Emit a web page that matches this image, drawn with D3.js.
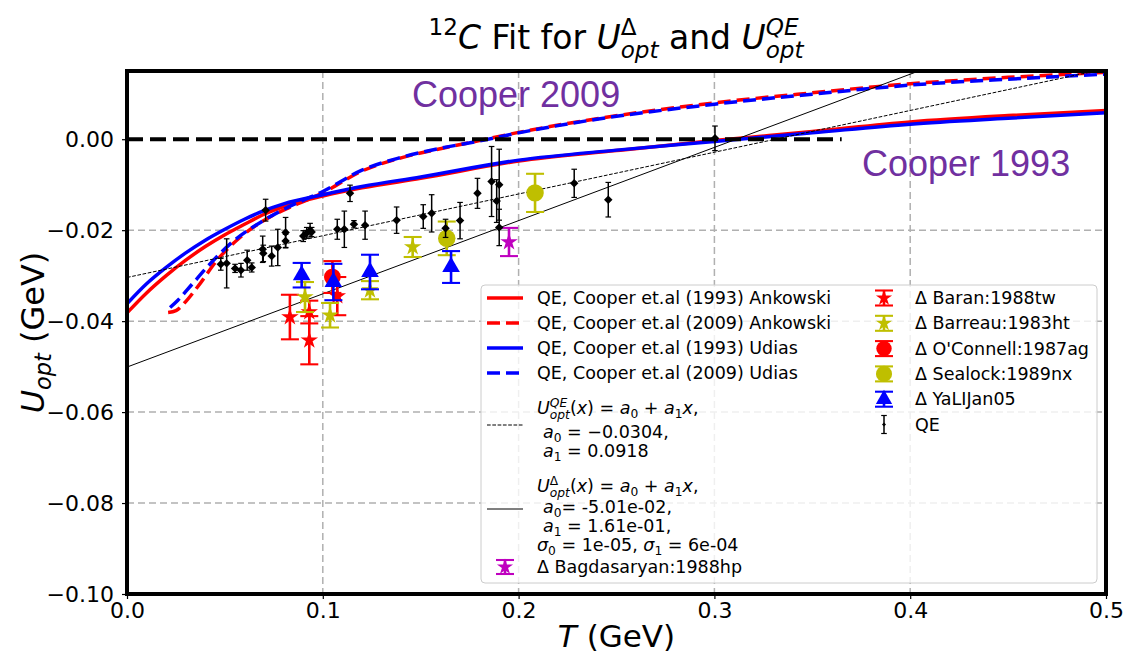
<!DOCTYPE html>
<html>
<head>
<meta charset="utf-8">
<script src="https://cdn.jsdelivr.net/npm/d3@7"></script>
<style>
body { margin: 0; background: #fff; }
svg { display: block; font-family: "DejaVu Sans", sans-serif; }
</style>
</head>
<body>
<svg id="chart" width="1124" height="656"></svg>
<script>
// ---- data ----
const xTicks = [0.0, 0.1, 0.2, 0.3, 0.4, 0.5];
const yTicks = [0.00, -0.02, -0.04, -0.06, -0.08, -0.10];

// QE curves, Cooper et.al (1993)
const c1993T = [0, 0.01, 0.02, 0.03, 0.04, 0.05, 0.06, 0.07, 0.08, 0.10, 0.12, 0.15, 0.20, 0.25, 0.30, 0.35, 0.40, 0.45, 0.50];
const ankowski1993 = [-0.0382, -0.0338, -0.0300, -0.0266, -0.0236, -0.0210, -0.0187, -0.0165, -0.0148, -0.0125, -0.0107, -0.0086, -0.0048, -0.0025, -0.0003, 0.0017, 0.0038, 0.0052, 0.0063];
const udias1993 = [-0.0362, -0.0318, -0.0282, -0.0250, -0.0222, -0.0198, -0.0176, -0.0157, -0.0142, -0.0122, -0.0104, -0.0083, -0.0046, -0.0024, -0.0005, 0.0014, 0.0033, 0.0046, 0.0058];

// QE curves, Cooper et.al (2009)
const ank2009T = [0.021, 0.025, 0.030, 0.036, 0.046, 0.058, 0.073, 0.083, 0.094, 0.100, 0.120, 0.140, 0.160, 0.180, 0.200, 0.240, 0.300, 0.350, 0.400, 0.450, 0.500];
const ankowski2009 = [-0.0381, -0.0377, -0.0357, -0.0325, -0.0266, -0.0215, -0.0171, -0.0150, -0.0130, -0.0118, -0.0070, -0.0041, -0.0021, -0.0003, 0.0015, 0.0045, 0.0080, 0.0102, 0.0122, 0.0136, 0.0147];
const udi2009T = [0.022, 0.026, 0.033, 0.041, 0.053, 0.070, 0.082, 0.100, 0.120, 0.140, 0.160, 0.180, 0.200, 0.240, 0.300, 0.350, 0.400, 0.450, 0.500];
const udias2009 = [-0.0370, -0.0354, -0.0320, -0.0281, -0.0229, -0.0178, -0.0150, -0.0115, -0.0068, -0.0040, -0.0020, -0.0004, 0.0014, 0.0044, 0.0077, 0.0099, 0.0119, 0.0132, 0.0143];

// linear fits  [a0, a1]
const qeFit = [-0.0304, 0.0918];
const deltaFit = [-0.0501, 0.161];
const zeroT = [0, 0.365];

// QE data
const qeT = [0.0479, 0.0509, 0.0552, 0.0582, 0.0614, 0.0637, 0.0693, 0.0696, 0.0708, 0.0739, 0.0770, 0.0810, 0.0810, 0.0900, 0.0918, 0.0935, 0.0943, 0.1074, 0.1110, 0.1139, 0.1159, 0.1216, 0.1377, 0.1513, 0.1556, 0.1627, 0.1701, 0.1790, 0.1862, 0.1888, 0.1901, 0.1901, 0.2284, 0.2458, 0.3003];
const qeU = [-0.0275, -0.0273, -0.0284, -0.0288, -0.0266, -0.0282, -0.0242, -0.0251, -0.0156, -0.0257, -0.0238, -0.0224, -0.0205, -0.0213, -0.0206, -0.0200, -0.0204, -0.0198, -0.0198, -0.0119, -0.0187, -0.0189, -0.0178, -0.0170, -0.0163, -0.0196, -0.0179, -0.0119, -0.0093, -0.0136, -0.0100, -0.0194, -0.0097, -0.0133, 0.0002];
const qeErr = [0.0013, 0.0054, 0.0009, 0.0015, 0.0022, 0.0010, 0.0029, 0.0018, 0.0024, 0.0022, 0.0040, 0.0015, 0.0033, 0.0012, 0.0012, 0.0015, 0.0010, 0.0022, 0.0040, 0.0018, 0.0008, 0.0031, 0.0029, 0.0026, 0.0041, 0.0020, 0.0040, 0.0033, 0.0077, 0.0047, 0.0078, 0.0040, 0.0031, 0.0038, 0.0027];

// Delta data
const bagT = [0.1951];
const bagU = [-0.0226];
const bagErr = [0.0031];
const baranT = [0.0832, 0.0931, 0.0931, 0.1074];
const baranU = [-0.0391, -0.0380, -0.0442, -0.0345];
const baranErr = [0.0049, 0.0025, 0.0053, 0.0042];
const barreauT = [0.0909, 0.1037, 0.1241, 0.1459];
const barreauU = [-0.0347, -0.0387, -0.0332, -0.0237];
const barreauErr = [0.0033, 0.0027, 0.0020, 0.0022];
const oconnellT = [0.1049];
const oconnellU = [-0.0303];
const oconnellErr = [0.0035];
const sealockT = [0.1633, 0.2084];
const sealockU = [-0.0218, -0.0118];
const sealockErr = [0.0037, 0.0042];
const yaliT = [0.0892, 0.1054, 0.1241, 0.1655];
const yaliU = [-0.0299, -0.0314, -0.0292, -0.0281];
const yaliErr = [0.0027, 0.0040, 0.0038, 0.0035];

// ---- chart ----
const RED = "#ff0000", BLUE = "#0000ff", YEL = "#bfbf00", MAG = "#bf00bf", PURPLE = "#7030a0";
const svg = d3.select("#chart");
const pLeft = 127, pRight = 1106, pTop = 71, pBottom = 594;

const x = d3.scaleLinear().domain([0, 0.5]).range([pLeft, pRight]);
const y = d3.scaleLinear().domain([-0.10, 0.015]).range([pBottom, pTop]);

svg.append("defs").append("clipPath").attr("id", "clip")
    .append("rect").attr("x", pLeft).attr("y", pTop).attr("width", pRight - pLeft).attr("height", pBottom - pTop);

// grid
const grid = svg.append("g").attr("stroke", "#b0b0b0").attr("stroke-width", 1.5).attr("stroke-dasharray", "7,4");
grid.selectAll(".gx").data(xTicks.slice(1, -1)).enter().append("line")
    .attr("x1", d => x(d)).attr("x2", d => x(d)).attr("y1", pTop).attr("y2", pBottom);
grid.selectAll(".gy").data(yTicks.slice(1, -1)).enter().append("line")
    .attr("x1", pLeft).attr("x2", pRight).attr("y1", d => y(d)).attr("y2", d => y(d));

// axes
const yAxis = d3.axisLeft(y).tickValues(yTicks).tickFormat(d3.format(".2f")).tickSizeInner(5).tickSizeOuter(0).tickPadding(8);
const xAxis = d3.axisBottom(x).tickValues(xTicks).tickFormat(d3.format(".1f")).tickSizeInner(5).tickSizeOuter(0).tickPadding(3);
const gy = svg.append("g").attr("transform", `translate(${pLeft},0)`).call(yAxis);
const gx = svg.append("g").attr("transform", `translate(0,${pBottom})`).call(xAxis);
[gx, gy].forEach(g => {
    g.select(".domain").remove();
    g.selectAll("text").attr("font-size", 22).attr("font-family", "DejaVu Sans").attr("fill", "#000");
    g.selectAll("line").attr("stroke", "#000").attr("stroke-width", 1.2);
});

const plot = svg.append("g").attr("clip-path", "url(#clip)");

// curves
function curve(T, U, color, dash) {
    const line = d3.line().x((d, i) => x(T[i])).y(d => y(d)).curve(d3.curveMonotoneX);
    plot.append("path").datum(U).attr("d", line)
        .attr("fill", "none").attr("stroke", color).attr("stroke-width", 3.5)
        .attr("stroke-dasharray", dash ? "13,6" : null);
}
curve(c1993T, ankowski1993, RED, false);
curve(ank2009T, ankowski2009, RED, true);
curve(c1993T, udias1993, BLUE, false);
curve(udi2009T, udias2009, BLUE, true);

// fit lines
function fitLine(p, dash) {
    plot.append("line")
        .attr("x1", x(0)).attr("y1", y(p[0]))
        .attr("x2", x(0.5)).attr("y2", y(p[0] + p[1] * 0.5))
        .attr("stroke", "#000").attr("stroke-width", 1)
        .attr("stroke-dasharray", dash ? "3.7,1.6" : null);
}
fitLine(qeFit, true);
fitLine(deltaFit, false);

// zero line
plot.append("line")
    .attr("x1", x(zeroT[0])).attr("x2", x(zeroT[1])).attr("y1", y(0)).attr("y2", y(0))
    .attr("stroke", "#000").attr("stroke-width", 4).attr("stroke-dasharray", "16,7");

// error bar series
function errSeries(g, T, U, E, o) {
    const rows = T.map((t, i) => ({ t: t, u: U[i], e: E[i] }));
    const s = g.append("g");
    s.selectAll(".bar").data(rows).enter().append("line")
        .attr("x1", d => x(d.t)).attr("x2", d => x(d.t))
        .attr("y1", d => y(d.u - d.e)).attr("y2", d => y(d.u + d.e))
        .attr("stroke", o.color).attr("stroke-width", o.lw);
    [-1, 1].forEach(sg => {
        s.selectAll(".cap" + sg).data(rows).enter().append("line")
            .attr("x1", d => x(d.t) - o.cap).attr("x2", d => x(d.t) + o.cap)
            .attr("y1", d => y(d.u + sg * d.e)).attr("y2", d => y(d.u + sg * d.e))
            .attr("stroke", o.color).attr("stroke-width", o.lw * 0.8);
    });
    s.selectAll(".mk").data(rows).enter().append("path")
        .attr("transform", d => `translate(${x(d.t)},${y(d.u)})` + (o.rot ? " rotate(45)" : ""))
        .attr("d", d3.symbol().type(o.type).size(o.size))
        .attr("fill", o.color);
}
const bagOpt = { color: MAG, type: d3.symbolStar, size: 95, lw: 2.6, cap: 9 };
const baranOpt = { color: RED, type: d3.symbolStar, size: 95, lw: 2.6, cap: 9 };
const barreauOpt = { color: YEL, type: d3.symbolStar, size: 95, lw: 2.6, cap: 9 };
const oconOpt = { color: RED, type: d3.symbolCircle, size: 220, lw: 2.6, cap: 9 };
const sealOpt = { color: YEL, type: d3.symbolCircle, size: 240, lw: 2.6, cap: 9 };
const yaliOpt = { color: BLUE, type: d3.symbolTriangle, size: 135, lw: 2.6, cap: 9 };
const qeOpt = { color: "#000", type: d3.symbolSquare, size: 36, lw: 1.5, cap: 2.8, rot: true };

errSeries(svg, bagT, bagU, bagErr, bagOpt);
errSeries(svg, baranT, baranU, baranErr, baranOpt);
errSeries(svg, barreauT, barreauU, barreauErr, barreauOpt);
errSeries(svg, oconnellT, oconnellU, oconnellErr, oconOpt);
errSeries(svg, sealockT, sealockU, sealockErr, sealOpt);
errSeries(svg, yaliT, yaliU, yaliErr, yaliOpt);
errSeries(svg, qeT, qeU, qeErr, qeOpt);

// spines
svg.append("rect").attr("x", pLeft).attr("y", pTop).attr("width", pRight - pLeft).attr("height", pBottom - pTop)
    .attr("fill", "none").attr("stroke", "#000").attr("stroke-width", 4);

// annotations
svg.append("text").attr("x", 412).attr("y", 107).attr("font-family", "Liberation Sans, Arial, sans-serif")
    .attr("font-size", 36).attr("fill", PURPLE).text("Cooper 2009");
svg.append("text").attr("x", 862).attr("y", 176).attr("font-family", "Liberation Sans, Arial, sans-serif")
    .attr("font-size", 36).attr("fill", PURPLE).text("Cooper 1993");

// ---- mathtext-like helper: one <text>, one tspan per piece ----
// kinds: n normal, i italic, sub, isub (italic sub), sup, ss [sup, sub] stacked (sup upright if 3rd el is 'ssu')
function mathText(g, px, py, size, parts) {
    const t = g.append("text").attr("x", px).attr("y", py).attr("font-size", size);
    let cx = px;
    function piece(str, tx, ty, sz, italic) {
        const s = t.append("tspan").attr("x", tx).attr("y", ty).attr("font-size", sz)
            .style("font-style", italic ? "italic" : "normal")
            .text(str.replace(/ /g, "\u00a0"));
        return s.node().getComputedTextLength();
    }
    parts.forEach(p => {
        const kind = p[p.length - 1];
        if (kind === "ss" || kind === "ssu") {
            const a = piece(p[0], cx, py - size * 0.42, size * 0.7, kind === "ss");
            const b = piece(p[1], cx, py + size * 0.26, size * 0.7, true);
            cx += Math.max(a, b);
        } else if (kind === "sub" || kind === "isub") {
            cx += piece(p[0], cx, py + size * 0.22, size * 0.7, kind === "isub");
        } else if (kind === "sup") {
            cx += piece(p[0], cx, py - size * 0.42, size * 0.7, false);
        } else {
            cx += piece(p[0], cx, py, size, kind === "i");
        }
    });
    return t;
}

// title
const tg = svg.append("g");
mathText(tg, 0, 0, 33, [["12", "sup"], ["C", "i"], [" Fit for ", "n"], ["U", "i"], ["\u0394", "opt", "ssu"], [" and ", "n"], ["U", "i"], ["QE", "opt", "ss"]]);
const tb = tg.node().getBBox();
tg.attr("transform", `translate(${(pLeft + pRight) / 2 - tb.width / 2 - tb.x},49)`);

// x label
const xg = svg.append("g");
mathText(xg, 0, 0, 31, [["T", "i"], [" (GeV)", "n"]]);
const xb = xg.node().getBBox();
xg.attr("transform", `translate(${(pLeft + pRight) / 2 - xb.width / 2 - xb.x},647)`);

// y label
const yg = svg.append("g");
mathText(yg, 0, 0, 32, [["U", "i"], ["opt", "isub"], [" (GeV)", "n"]]);
const yb = yg.node().getBBox();
yg.attr("transform", `translate(44,${(pTop + pBottom) / 2 + yb.width / 2}) rotate(-90) translate(${-yb.x},0)`);

// ---- legend ----
const lg = svg.append("g");
lg.append("rect").attr("x", 481).attr("y", 285).attr("width", 616).attr("height", 298).attr("rx", 4)
    .attr("fill", "#fff").attr("fill-opacity", 0.8).attr("stroke", "#cccccc").attr("stroke-width", 1);
const fs = 17.5;
const hx0 = 487, hx1 = 523, tx = 537;

function lineHandle(cy, color, w, dash) {
    lg.append("line").attr("x1", hx0).attr("x2", hx1).attr("y1", cy).attr("y2", cy)
        .attr("stroke", color).attr("stroke-width", w).attr("stroke-dasharray", dash);
}
function errHandle(cx, cy, o, half) {
    lg.append("line").attr("x1", cx).attr("x2", cx).attr("y1", cy - half).attr("y2", cy + half)
        .attr("stroke", o.color).attr("stroke-width", o.lw);
    [-half, half].forEach(dy => lg.append("line").attr("x1", cx - o.cap).attr("x2", cx + o.cap)
        .attr("y1", cy + dy).attr("y2", cy + dy).attr("stroke", o.color).attr("stroke-width", o.lw * 0.8));
    lg.append("path").attr("transform", `translate(${cx},${cy})` + (o.rot ? " rotate(45)" : ""))
        .attr("d", d3.symbol().type(o.type).size(o.rot ? 8 : o.size * 0.85)).attr("fill", o.color);
}

const leftRows = [
    ["QE, Cooper et.al (1993) Ankowski", RED, null, 298],
    ["QE, Cooper et.al (2009) Ankowski", RED, "13,6", 323],
    ["QE, Cooper et.al (1993) Udias", BLUE, null, 348],
    ["QE, Cooper et.al (2009) Udias", BLUE, "13,6", 373]
];
leftRows.forEach(r => {
    lineHandle(r[3], r[1], 3.5, r[2]);
    mathText(lg, tx, r[3] + 6, fs, [[r[0], "n"]]);
});

// QE fit entry
lineHandle(425, "#000", 1, "3.7,1.6");
mathText(lg, tx, 414, fs, [["U", "i"], ["QE", "opt", "ss"], ["(", "n"], ["x", "i"], [") = ", "n"], ["a", "i"], ["0", "sub"], [" + ", "n"], ["a", "i"], ["1", "sub"], ["x", "i"], [",", "n"]]);
mathText(lg, tx + 6, 438, fs, [["a", "i"], ["0", "sub"], [" = \u22120.0304,", "n"]]);
mathText(lg, tx + 6, 457, fs, [["a", "i"], ["1", "sub"], [" = 0.0918", "n"]]);

// Delta fit entry
lineHandle(509, "#000", 1, null);
mathText(lg, tx, 492, fs, [["U", "i"], ["\u0394", "opt", "ssu"], ["(", "n"], ["x", "i"], [") = ", "n"], ["a", "i"], ["0", "sub"], [" + ", "n"], ["a", "i"], ["1", "sub"], ["x", "i"], [",", "n"]]);
mathText(lg, tx + 6, 513, fs, [["a", "i"], ["0", "sub"], ["= -5.01e-02,", "n"]]);
mathText(lg, tx + 6, 532, fs, [["a", "i"], ["1", "sub"], [" = 1.61e-01,", "n"]]);
mathText(lg, tx, 551, fs, [["\u03c3", "i"], ["0", "sub"], [" = 1e-05, ", "n"], ["\u03c3", "i"], ["1", "sub"], [" = 6e-04", "n"]]);

errHandle(505, 567, bagOpt, 7);
mathText(lg, tx, 573, fs, [["\u0394 Bagdasaryan:1988hp", "n"]]);

const rightRows = [
    ["\u0394 Baran:1988tw", baranOpt],
    ["\u0394 Barreau:1983ht", barreauOpt],
    ["\u0394 O'Connell:1987ag", oconOpt],
    ["\u0394 Sealock:1989nx", sealOpt],
    ["\u0394 YaLIJan05", yaliOpt],
    ["QE", qeOpt]
];
rightRows.forEach((r, i) => {
    const cy = 298 + i * 25.3;
    errHandle(884, cy, r[1], r[1].rot ? 9 : 7.5);
    mathText(lg, 915, cy + 6, fs, [[r[0], "n"]]);
});
</script>
</body>
</html>
